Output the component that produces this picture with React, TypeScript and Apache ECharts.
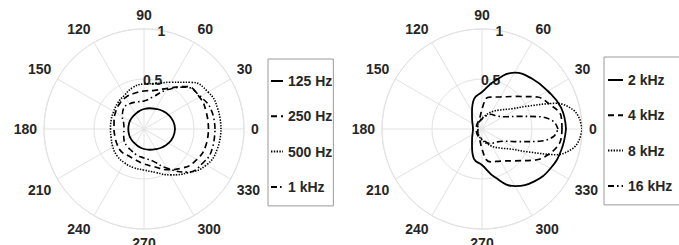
import React, { useEffect, useRef } from 'react';
import * as echarts from 'echarts';

// ---------- data ----------
const angleLabelsMax = 360;
const radiusLabelAngle = 80;

// Left plot (low frequencies), angles in degrees, radius normalised
const anglesLow = [0, 15, 30, 45, 60, 75, 90, 105, 120, 135, 150, 165, 180, 195, 210, 225, 240, 255, 270, 285, 300, 315, 330, 345];
const r125 = [0.31, 0.302, 0.283, 0.258, 0.233, 0.215, 0.2, 0.185, 0.172, 0.166, 0.162, 0.158, 0.157, 0.158, 0.162, 0.166, 0.172, 0.185, 0.2, 0.215, 0.233, 0.258, 0.283, 0.302];
const r250 = [0.645, 0.645, 0.64, 0.6, 0.47, 0.4, 0.38, 0.37, 0.365, 0.35, 0.33, 0.31, 0.3, 0.3, 0.31, 0.32, 0.31, 0.32, 0.35, 0.39, 0.47, 0.55, 0.61, 0.64];
const r500 = [0.77, 0.765, 0.74, 0.66, 0.54, 0.47, 0.45, 0.43, 0.39, 0.37, 0.35, 0.34, 0.335, 0.34, 0.36, 0.38, 0.39, 0.4, 0.41, 0.45, 0.53, 0.62, 0.72, 0.76];
const r1k = [0.71, 0.7, 0.65, 0.59, 0.45, 0.33, 0.28, 0.28, 0.29, 0.29, 0.25, 0.21, 0.2, 0.21, 0.23, 0.24, 0.25, 0.27, 0.29, 0.33, 0.45, 0.61, 0.68, 0.71];

// Right plot (high frequencies)
const angles2k = [0, 15, 30, 45, 60, 75, 90, 105, 120, 135, 150, 165, 180, 195, 210, 225, 240, 255, 270, 285, 300, 315, 330, 345];
const r2k = [0.84, 0.82, 0.76, 0.71, 0.65, 0.5, 0.37, 0.31, 0.2, 0.14, 0.11, 0.095, 0.09, 0.095, 0.11, 0.14, 0.2, 0.31, 0.36, 0.5, 0.66, 0.74, 0.79, 0.82];
const angles4k = [0, 10, 20, 30, 45, 60, 75, 82, 90, 105, 135, 160, 180, 200, 225, 255, 270, 278, 285, 300, 315, 330, 340, 350];
const r4k = [0.8, 0.8, 0.72, 0.64, 0.46, 0.37, 0.33, 0.31, 0.2, 0.1, 0.07, 0.06, 0.06, 0.06, 0.07, 0.1, 0.2, 0.31, 0.34, 0.37, 0.45, 0.62, 0.72, 0.79];
const angles8k = [0, 6, 12, 19, 27, 35, 47, 60, 80, 110, 150, 180, 210, 250, 280, 300, 313, 325, 333, 341, 348, 354];
const r8k = [1.0, 0.98, 0.93, 0.79, 0.5, 0.35, 0.26, 0.2, 0.13, 0.08, 0.05, 0.04, 0.05, 0.08, 0.13, 0.2, 0.26, 0.35, 0.5, 0.79, 0.93, 0.98];
const angles16k = [0, 6, 12, 20, 27, 40, 60, 90, 120, 150, 180, 210, 240, 270, 300, 320, 333, 340, 348, 354];
const r16k = [0.76, 0.72, 0.59, 0.37, 0.27, 0.2, 0.17, 0.1, 0.07, 0.05, 0.04, 0.05, 0.07, 0.1, 0.17, 0.2, 0.27, 0.37, 0.59, 0.72];

const namesLow = ['125 Hz', '250 Hz', '500 Hz', '1 kHz'];
const namesHigh = ['2 kHz', '4 kHz', '8 kHz', '16 kHz'];

// ---------- helpers ----------
const FONT = "'Liberation Sans', Arial, Helvetica, sans-serif";
const TEXT = '#262626';
const GRID = '#e2e2e2';

const closed = (angles: number[], r: number[]) => {
  const pts = angles.map((a, i) => [r[i], a]);
  pts.push([r[0], 360]);
  return pts;
};

const dashStyles: Record<string, { type: any; width: number }> = {
  solid: { type: 'solid', width: 1.8 },
  dashed: { type: [6, 4], width: 1.7 },
  dotted: { type: [1.4, 1.4], width: 1.6 },
  dashdot: { type: [6, 3, 1.6, 3], width: 1.6 },
};
const styleOrder = ['solid', 'dashed', 'dotted', 'dashdot'];

const mainAngleAxis = (polarIndex: number) => ({
  polarIndex,
  type: 'value',
  min: 0,
  max: angleLabelsMax,
  interval: 30,
  startAngle: 0,
  clockwise: false,
  axisLine: { show: true, lineStyle: { color: GRID, width: 1 } },
  axisTick: { show: false },
  splitLine: { show: true, lineStyle: { color: GRID, width: 1 } },
  axisLabel: {
    margin: 7,
    fontSize: 14,
    fontWeight: 'bold',
    fontFamily: FONT,
    color: TEXT,
    formatter: (v: number) => (v === angleLabelsMax ? '' : String(v)),
  },
});

const mainRadiusAxis = (polarIndex: number) => ({
  polarIndex,
  type: 'value',
  min: 0,
  max: 1,
  interval: 0.5,
  axisLine: { show: false },
  axisTick: { show: false },
  axisLabel: { show: false },
  splitLine: { show: true, lineStyle: { color: GRID, width: 1 } },
});

const labelAngleAxis = (polarIndex: number) => ({
  polarIndex,
  type: 'value',
  min: 0,
  max: 360,
  startAngle: radiusLabelAngle,
  clockwise: false,
  show: false,
});

const labelRadiusAxis = (polarIndex: number) => ({
  polarIndex,
  type: 'value',
  min: 0,
  max: 1,
  interval: 0.5,
  axisLine: { show: false },
  axisTick: { show: false },
  splitLine: { show: false },
  axisLabel: {
    show: true,
    showMinLabel: false,
    margin: 0,
    align: 'center',
    verticalAlign: 'middle',
    fontSize: 14,
    fontWeight: 'bold',
    fontFamily: FONT,
    color: TEXT,
    formatter: (v: number) => String(v),
  },
});

const makeSeries = (name: string, polarIndex: number, data: number[][], style: string, smooth: number) => ({
  name,
  type: 'line',
  coordinateSystem: 'polar',
  polarIndex,
  data,
  smooth,
  symbol: 'none',
  silent: true,
  z: 5,
  lineStyle: { color: '#000', width: dashStyles[style].width, type: dashStyles[style].type },
  itemStyle: { color: '#000' },
});

const legendCommon = {
  orient: 'vertical',
  selectedMode: false,
  itemHeight: 14,
  itemGap: 21.3,
  borderColor: '#9a9a9a',
  borderWidth: 1,
  backgroundColor: '#fff',
  itemStyle: { color: 'transparent', borderColor: 'transparent', borderWidth: 0, opacity: 0 },
  textStyle: { fontSize: 14, fontWeight: 'bold', fontFamily: FONT, color: TEXT },
};

export default function App() {
  const ref = useRef<HTMLDivElement>(null);
  useEffect(() => {
    const chart = echarts.init(ref.current!, null, { renderer: 'svg' });
    const lowData = [r125, r250, r500, r1k].map((r) => closed(anglesLow, r));
    const highData = [
      closed(angles2k, r2k),
      closed(angles4k, r4k),
      closed(angles8k, r8k),
      closed(angles16k, r16k),
    ];
    const option: any = {
      animation: false,
      backgroundColor: '#fff',
      polar: [
        { center: [144, 129], radius: 100 },
        { center: [482, 129], radius: 100 },
        { center: [144, 129], radius: 100 },
        { center: [482, 129], radius: 100 },
      ],
      angleAxis: [mainAngleAxis(0), mainAngleAxis(1), labelAngleAxis(2), labelAngleAxis(3)],
      radiusAxis: [mainRadiusAxis(0), mainRadiusAxis(1), labelRadiusAxis(2), labelRadiusAxis(3)],
      legend: [
        {
          ...legendCommon,
          left: 268,
          top: 59,
          itemWidth: 12,
          padding: [15, 1, 12, 2],
          data: namesLow,
        },
        {
          ...legendCommon,
          left: 604,
          top: 57,
          itemWidth: 15,
          padding: [16, 8, 12, 3],
          data: namesHigh,
        },
      ],
      series: [
        ...namesLow.map((n, i) => makeSeries(n, 0, lowData[i], styleOrder[i], 0.5)),
        ...namesHigh.map((n, i) => makeSeries(n, 1, highData[i], styleOrder[i], i === 0 ? 0.45 : 0.35)),
      ],
    };
    chart.setOption(option);
    return () => chart.dispose();
  }, []);
  return (
    <div
      ref={ref}
      style={{ position: 'fixed', left: 0, top: 0, width: 679, height: 245, background: '#fff' }}
    />
  );
}
